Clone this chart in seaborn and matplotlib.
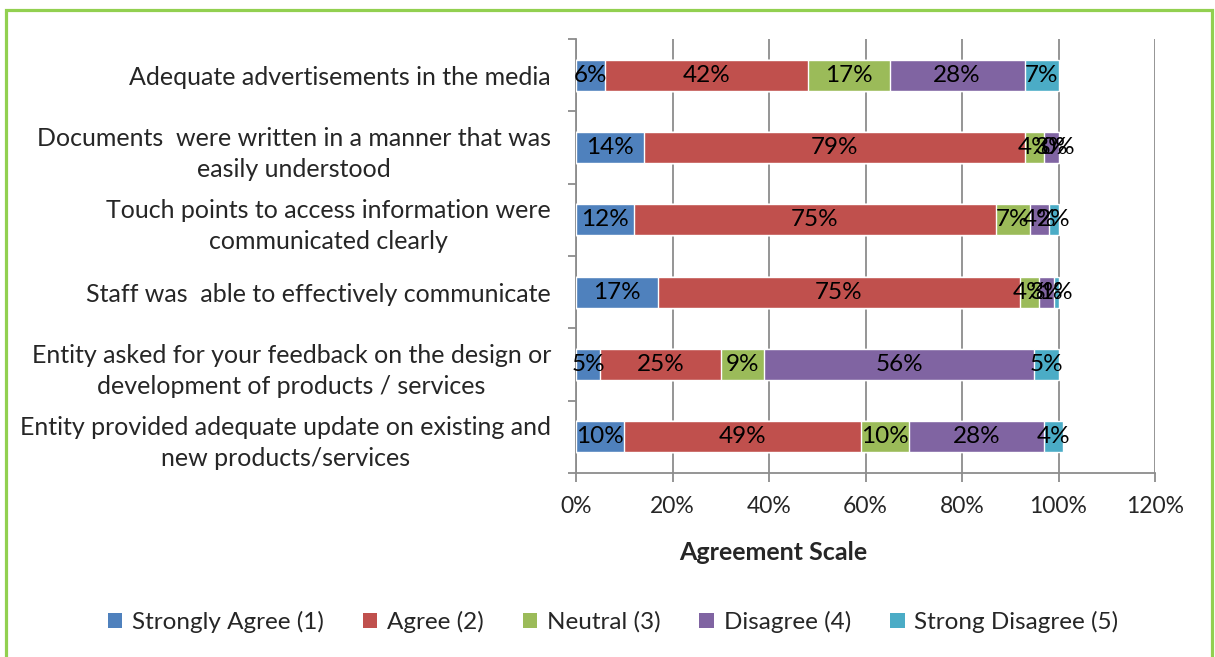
import matplotlib
matplotlib.use("Agg")
import matplotlib.pyplot as plt
from matplotlib.patches import Patch, Rectangle
import numpy as np
import pandas as pd
import seaborn as sns

# Survey statements (top to bottom)
statements = [
    "Adequate advertisements in the media",
    "Documents  were written in a manner that was\neasily understood",
    "Touch points to access information were\ncommunicated clearly",
    "Staff was  able to effectively communicate",
    "Entity asked for your feedback on the design or\ndevelopment of products / services",
    "Entity provided adequate update on existing and\nnew products/services",
]

# Share of respondents per answer (percent)
strongly_agree = [6, 14, 12, 17, 5, 10]
agree = [42, 79, 75, 75, 25, 49]
neutral = [17, 4, 7, 4, 9, 10]
disagree = [28, 3, 4, 3, 56, 28]
strong_disagree = [7, 0, 2, 1, 5, 4]

series_names = ["Strongly Agree (1)", "Agree (2)", "Neutral (3)",
                "Disagree (4)", "Strong Disagree (5)"]
series_colors = ["#4F81BD", "#C0504D", "#9BBB59", "#8064A2", "#4BACC6"]
x_ticks = [0, 20, 40, 60, 80, 100, 120]

sns.set_theme(style="white")
plt.rcParams["font.family"] = ["Lato", "DejaVu Sans"]

W, H = 1215, 657
fig = plt.figure(figsize=(W / 100, H / 100), dpi=100)
ax = fig.add_axes([576 / W, 1 - 473 / H, (1155 - 576) / W, (473 - 39) / H])

df = pd.DataFrame({"Statement": statements})
for name, vals in zip(series_names, [strongly_agree, agree, neutral,
                                     disagree, strong_disagree]):
    df[name] = vals
cum = df[series_names].cumsum(axis=1)
cum["Statement"] = statements

# Stacked bars: draw cumulative totals from the outermost segment inward
for name, color in reversed(list(zip(series_names, series_colors))):
    sns.barplot(data=cum, x=name, y="Statement", orient="h", color=color,
                saturation=1, width=0.43, ax=ax, zorder=3)

# Segment value labels
for i in range(len(statements)):
    left = 0
    for name in series_names:
        v = df.loc[i, name]
        ax.text(left + v / 2, i, f"{v}%", ha="center", va="center",
                fontsize=17.5, color="black", zorder=5)
        left += v

ax.set_xlim(0, 120)
ax.set_ylim(len(statements) - 0.5, -0.5)
ax.set_xticks(x_ticks)
ax.set_xticklabels([f"{t}%" for t in x_ticks], fontsize=16.5)
ax.set_yticks(range(len(statements)))
ax.set_yticklabels(statements, fontsize=18, multialignment="center",
                   linespacing=1.45)
ax.set_yticks(np.arange(-0.5, len(statements)), minor=True)
ax.set_xlabel("")
ax.set_ylabel("")

grid_col = "#8C8C8C"
ax.xaxis.grid(True, color=grid_col, linewidth=1.3, zorder=0)
ax.set_axisbelow(True)
for s in ["top", "right"]:
    ax.spines[s].set_visible(False)
for s in ["left", "bottom"]:
    ax.spines[s].set_color(grid_col)
    ax.spines[s].set_linewidth(1.3)
ax.tick_params(axis="x", which="major", direction="out", length=6.5,
               width=1.3, color=grid_col, pad=10, bottom=True)
ax.tick_params(axis="y", which="major", length=0, pad=18)
ax.tick_params(axis="y", which="minor", direction="out", length=6,
               width=1.3, color=grid_col, left=True)

fig.text(773 / W, 1 - 553 / H, "Agreement Scale", ha="center", va="center",
         fontsize=18, fontweight="bold")

handles = [Patch(facecolor=c, edgecolor="none", label=n)
           for n, c in zip(series_names, series_colors)]
fig.legend(handles=handles, loc="center", bbox_to_anchor=(613 / W, 1 - 622 / H),
           ncol=5, frameon=False, fontsize=17.5, handlelength=0.6,
           handleheight=0.6, handletextpad=0.4, columnspacing=1.6)

# Green frame around the chart
fig.add_artist(Rectangle((6 / W, -0.02), (1212 - 6) / W, 1 - 10 / H + 0.02,
                         transform=fig.transFigure, fill=False,
                         edgecolor="#92D050", linewidth=2.3))

fig.savefig("out.png", dpi=100, facecolor="white")
